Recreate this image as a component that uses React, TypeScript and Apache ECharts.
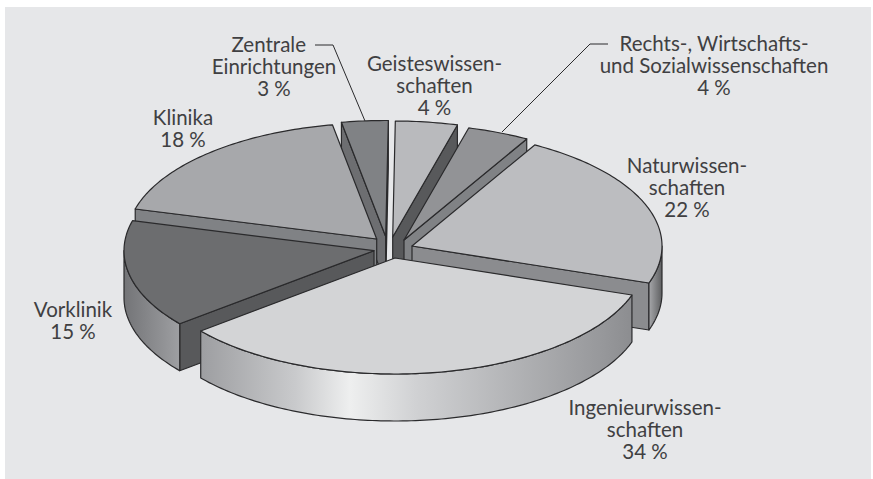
import React, { useEffect, useRef } from "react";
import * as echarts from "echarts";

const categories = ["Geisteswissenschaften", "Rechts-, Wirtschafts- und Sozialwissenschaften", "Naturwissenschaften", "Ingenieurwissenschaften", "Vorklinik", "Klinika", "Zentrale Einrichtungen"];
const shares = [4, 4, 22, 34, 15, 18, 3];

const topColors = ["#b9babd", "#929396", "#bcbdc0", "#d3d4d6", "#6c6d6f", "#a7a8ab", "#808285"];
const wallColors = ["#58595b", "#808285", "#8b8c8f", "#8b8c8f", "#58595b", "#808285", "#6d6e71"];
const arcStops: [number, string][][] = [
  [], [],
  [[0, "#a6a7aa"], [1, "#5e5f61"]],
  [[0, "#9d9ea1"], [0.22, "#c9cacc"], [0.346, "#eeefef"], [0.5, "#d0d1d3"], [0.93, "#97989b"], [1, "#8c8d90"]],
  [[0, "#737477"], [1, "#9e9fa2"]],
  [], [],
];

const labelTexts = [
  "Geisteswissen-\nschaften\n4 %",
  "Rechts-, Wirtschafts-\nund Sozialwissenschaften\n4 %",
  "Naturwissen-\nschaften\n22 %",
  "Ingenieurwissen-\nschaften\n34 %",
  "Vorklinik\n15 %",
  "Klinika\n18 %",
  "Zentrale  \nEinrichtungen\n3 %",
];
const labelCenters = [[434.5, 85], [714, 65], [687, 187], [645, 428.5], [73, 320], [183, 128], [274, 66]];
const leaderLines = [
  [[315, 45], [333, 45], [365, 121]],
  [[608, 44], [590, 44], [502, 132]],
];

const CX = 391, CY = 247, RX = 250, RY = 116, DEPTH = 47, START = -89.4;
const explodeOffsets = [[1.7, -10], [13, -7], [21, -1], [4, 11], [-17, 3.7], [-14.3, -8], [-5.3, -10.5]];
const rad = (d: number) => (d * Math.PI) / 180;

let acc = START;
const slices = shares.map((v, index) => {
  const a0 = acc;
  const a1 = acc + (v / 100) * 360;
  acc = a1;
  return { v, index, a0, a1, mid: (a0 + a1) / 2 };
});
const paintOrder = [...slices].sort((a, b) => Math.sin(rad(a.mid)) - Math.sin(rad(b.mid)));

function arcPts(ax: number, ay: number, from: number, to: number, dy = 0) {
  const pts: number[][] = [];
  const n = Math.max(2, Math.ceil(Math.abs(to - from)));
  for (let i = 0; i <= n; i++) {
    const t = rad(from + ((to - from) * i) / n);
    pts.push([ax + RX * Math.cos(t), ay + RY * Math.sin(t) + dy]);
  }
  return pts;
}

const stroke = { stroke: "#2a2a2c", lineWidth: 1.2, lineJoin: "round" };

function renderItem(params: any) {
  const s = paintOrder[params.dataIndex];
  const ax = CX + explodeOffsets[s.index][0];
  const ay = CY + explodeOffsets[s.index][1];
  const children: any[] = [];
  const wall = (ang: number) => {
    const rx = ax + RX * Math.cos(rad(ang));
    const ry = ay + RY * Math.sin(rad(ang));
    children.push({
      type: "polygon",
      shape: { points: [[ax, ay], [rx, ry], [rx, ry + DEPTH], [ax, ay + DEPTH]] },
      style: { fill: wallColors[s.index], ...stroke },
    });
  };
  if (Math.cos(rad(s.a0)) < 0) wall(s.a0);
  if (Math.cos(rad(s.a1)) > 0) wall(s.a1);
  const from = Math.max(s.a0, 0);
  const to = Math.min(s.a1, 180);
  if (to > from) {
    const top = arcPts(ax, ay, from, to);
    const bottom = arcPts(ax, ay, to, from, DEPTH);
    children.push({
      type: "polygon",
      shape: { points: [...top, ...bottom] },
      style: {
        fill: new echarts.graphic.LinearGradient(
          0, 0, 1, 0,
          arcStops[s.index].map(([offset, color]) => ({ offset, color }))
        ),
        ...stroke,
      },
    });
  }
  children.push({
    type: "polygon",
    shape: { points: [[ax, ay], ...arcPts(ax, ay, s.a0, s.a1)] },
    style: { fill: topColors[s.index], ...stroke },
  });
  return { type: "group", children };
}

export default function App() {
  const ref = useRef<HTMLDivElement>(null);
  useEffect(() => {
    const chart = echarts.init(ref.current!, null, { renderer: "svg" });
    chart.setOption({
      animation: false,
      backgroundColor: "#ffffff",
      graphic: [
        { type: "rect", z: -1, shape: { x: 5, y: 7, width: 866, height: 472 }, style: { fill: "#e6e7e9" } },
        ...labelTexts.map((t, i) => ({
          type: "text",
          z: 10,
          x: labelCenters[i][0],
          y: labelCenters[i][1],
          style: {
            text: t,
            fontFamily: "Lato",
            fontSize: 20.5,
            lineHeight: 22,
            fill: "#404042",
            textAlign: "center",
            textVerticalAlign: "middle",
          },
        })),
        ...leaderLines.map((pts) => ({
          type: "polyline",
          z: 10,
          shape: { points: pts },
          style: { stroke: "#2a2a2c", lineWidth: 1, fill: "none" },
        })),
      ],
      series: [
        {
          type: "custom",
          name: "Anteile",
          coordinateSystem: "none",
          renderItem,
          data: paintOrder.map((s) => ({ name: categories[s.index], value: s.v })),
          silent: true,
        },
      ],
    });
    return () => chart.dispose();
  }, []);
  return <div ref={ref} style={{ position: "absolute", left: 0, top: 0, width: 873, height: 479 }} />;
}
